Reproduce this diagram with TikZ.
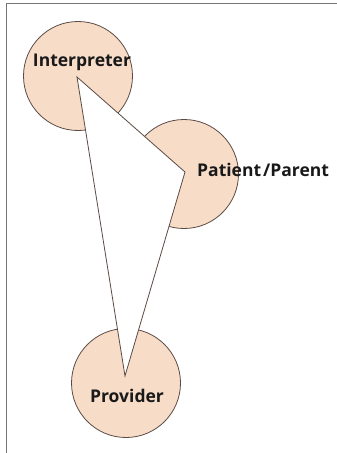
\documentclass[tikz,border=0pt]{standalone}
\usepackage{fontspec}
\setmainfont{Open Sans}
\definecolor{peach}{HTML}{F7DCC7}
\definecolor{rim}{HTML}{5A4A44}
\definecolor{framegray}{HTML}{767676}
\begin{document}
\begin{tikzpicture}[x=1pt,y=-1pt,
  party/.style={circle,draw=rim,line width=0.8pt,fill=peach,minimum size=109pt,inner sep=0pt},
  lbl/.style={font=\bfseries\fontsize{17.5}{21}\selectfont,text=black!90,inner sep=0pt},
  wedge/.style={draw=rim,line width=0.8pt,fill=white,line join=miter}]
  \useasboundingbox (0,0) rectangle (337,453);
  % frame lines along the top and left
  \draw[framegray,line width=1.5pt] (6.5,453) -- (6.5,3.5) -- (337,3.5);
  % the three parties
  \node[party] (interp) at (78,76) {};
  \node[party] (patient) at (184,174) {};
  \node[party] (prov) at (126,383) {};
  % corners of the communication triangle
  \coordinate (ti) at (77,77);
  \coordinate (tp) at (185,172);
  \coordinate (tv) at (125,376);
  \draw[wedge] (ti) -- (tp) -- (tv) -- cycle;
  % labels
  \node[lbl] (linterp) at (82,62) {Interpreter};
  \node[lbl,anchor=west] (lpatient) at (197,170) {Patient\kern2pt/Parent};
  \node[lbl] (lprov) at (127,396) {Provider};
\end{tikzpicture}
\end{document}
